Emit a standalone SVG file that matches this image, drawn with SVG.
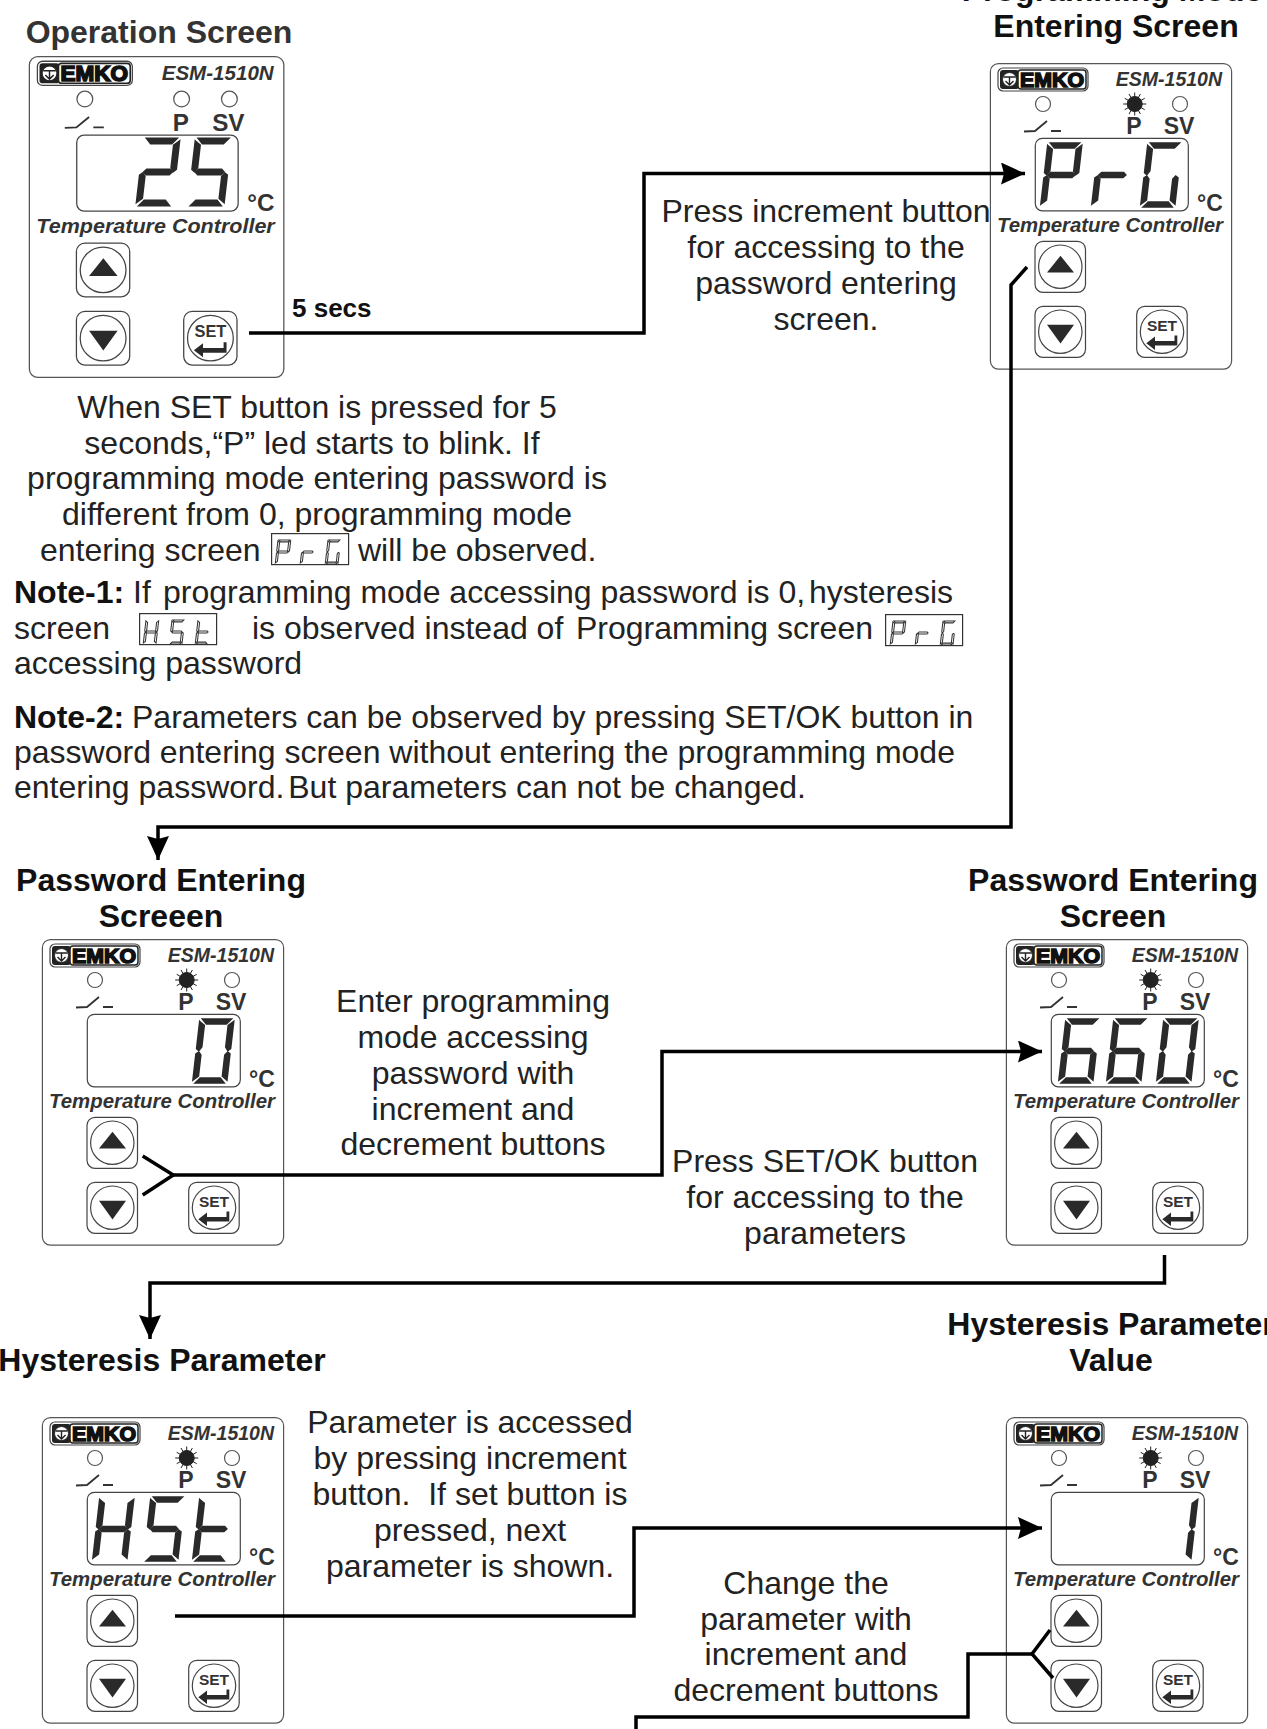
<svg xmlns="http://www.w3.org/2000/svg" width="1267" height="1729" viewBox="0 0 1267 1729">
<style>
text{font-family:"Liberation Sans",Arial,sans-serif;white-space:pre}
.t{font-size:32px;font-weight:700;fill:#111;text-anchor:middle}
.l{font-size:32px;fill:#222}
.m{text-anchor:middle}
.b{font-weight:700;fill:#111}
.esm{font-size:19.500px;font-weight:700;font-style:italic;fill:#333;text-anchor:end}
.tc{font-size:19.500px;font-weight:700;font-style:italic;fill:#333}
.ind{font-size:23px;font-weight:700;fill:#333;text-anchor:middle}
.deg{font-size:23px;font-weight:700;fill:#333}
.set{font-size:15.500px;font-weight:700;fill:#333;text-anchor:middle}
.logo{font-size:21px;font-weight:700;fill:#111;stroke:#111;stroke-width:1.600}
.o{fill:#fff;stroke:#555;stroke-width:1.200}
.o2{fill:#fff;stroke:#444;stroke-width:1.200}
.seg{fill:#2a2a2a;stroke:#2a2a2a;stroke-width:1.600}
.hol{fill:#fff;stroke:#333;stroke-width:2.800}
.c{fill:none;stroke:#000;stroke-width:3.500;stroke-linejoin:miter}
.box{fill:#fff;stroke:#333;stroke-width:1.200}
</style>
<defs>
<polygon id="a" points="2.500,0 31.500,0 27,5 7,5"/>
<polygon id="bb" points="34,2.500 34,29.500 31.500,31.500 29,28 29,6.500"/>
<polygon id="cc" points="31.500,33 34,35 34,61 29,57 29,36"/>
<polygon id="dd" points="7,59 27,59 31.500,64 2.500,64"/>
<polygon id="ee" points="2.500,33 5,36 5,57 0,61 0,35"/>
<polygon id="ff" points="0,2.500 5,6.500 5,28 2.500,31.500 0,29.500"/>
<polygon id="gg" points="3.500,32 6,29.500 28,29.500 30.500,32 28,34.500 6,34.500"/>
<g id="d0"><use href="#a"/><use href="#bb"/><use href="#cc"/><use href="#dd"/><use href="#ee"/><use href="#ff"/></g>
<g id="d1"><use href="#bb"/><use href="#cc"/></g>
<g id="d2"><use href="#a"/><use href="#bb"/><use href="#gg"/><use href="#ee"/><use href="#dd"/></g>
<g id="d5"><use href="#a"/><use href="#ff"/><use href="#gg"/><use href="#cc"/><use href="#dd"/></g>
<g id="d6"><use href="#a"/><use href="#ff"/><use href="#gg"/><use href="#cc"/><use href="#dd"/><use href="#ee"/></g>
<g id="dP"><use href="#a"/><use href="#bb"/><use href="#ff"/><use href="#gg"/><use href="#ee"/></g>
<g id="dr"><use href="#gg"/><use href="#ee"/></g>
<g id="dG"><use href="#a"/><use href="#ff"/><use href="#ee"/><use href="#dd"/><use href="#cc"/></g>
<g id="dH"><use href="#bb"/><use href="#cc"/><use href="#ff"/><use href="#ee"/><use href="#gg"/></g>
<g id="dt"><use href="#ff"/><use href="#ee"/><use href="#gg"/><use href="#dd"/></g>
<g id="led"><circle r="7.500" class="o"/></g>
<g id="burst" stroke="#222" fill="#222"><circle r="7.500"/><path stroke-width="1" d="M-11.500 0H11.500M0-11.500V11.500M-10-5.700L10 5.700M-10 5.700L10-5.700M-5.700-10L5.700 10M-5.700 10L5.700-10"/></g>
<g id="face">
<rect x="-.6" y=".6" width="241.200" height="305.500" rx="8" class="o"/>
<rect x="7" y="5" width="90" height="23" rx="5" class="o2"/>
<rect x="9" y="7" width="19" height="19" rx="3" fill="#222"/>
<rect x="27" y="7" width="68" height="19" rx="3" fill="#fff" stroke="#222" stroke-width="1.500"/>
<circle cx="18.500" cy="16.500" r="7" fill="#fff" stroke="#222"/>
<path d="M12.500 14h12M18.500 14v8M14.500 18l4 4 4-4" fill="none" stroke="#222" stroke-width="1.400"/>
<use href="#led" x="52" y="41"/>
<use href="#led" x="189" y="41"/>
<path d="M33 68.500L44 68 56 58M60 68H70" fill="none" stroke="#333" stroke-width="1.800"/>
<rect x="44.300" y="75.300" width="153" height="72.500" rx="7" class="o2"/>
<rect x="44" y="178.300" width="50.500" height="51" rx="8" class="o2"/>
<circle cx="69.300" cy="203.700" r="21.700" class="o2"/>
<polygon points="56,209.500 83,209.500 69.500,192.700" fill="#2a2a2a"/>
<rect x="44" y="243.300" width="50.500" height="51" rx="8" class="o2"/>
<circle cx="69.300" cy="268.700" r="21.700" class="o2"/>
<polygon points="56,261.700 83,261.700 69.500,280.500" fill="#2a2a2a"/>
<rect x="145.700" y="243.300" width="50.500" height="51" rx="8" class="o2"/>
<circle cx="171" cy="268.700" r="21.700" class="o2"/>
<polygon points="155.300,280.300 164,273.500 164,278 183.500,278 183.500,272.500 186.300,272.500 186.300,282.500 164,282.500 164,287" fill="#2a2a2a"/>
</g>
<marker id="ar" viewBox="0 0 24 22" refX="24" refY="11" markerWidth="24" markerHeight="22" markerUnits="userSpaceOnUse" orient="auto"><polygon points="0,0 24,11 0,22 3,11" fill="#000"/></marker>
</defs>

<text class="t" x="159" y="43" style="fill:#333">Operation Screen</text>
<text class="t" x="1112" y="1">Programming Mode</text>
<text class="t" x="1116" y="37">Entering Screen</text>
<text class="t" x="161" y="891">Password Entering</text>
<text class="t" x="161" y="927">Screeen</text>
<text class="t" x="1113" y="891">Password Entering</text>
<text class="t" x="1113" y="927">Screen</text>
<text class="t" x="162" y="1371">Hysteresis Parameter</text>
<text class="t" x="1111" y="1335">Hysteresis Parameter</text>
<text class="t" x="1111" y="1371">Value</text>

<g id="dev-operation" transform="translate(30 56) scale(1.055 1.05)">
<use href="#face"/>
<text class="logo" x="29" y="24" textLength="64" lengthAdjust="spacingAndGlyphs">EMKO</text>
<text class="esm" x="231" y="23">ESM-1510N</text>
<use href="#led" x="143.700" y="41"/>
<text class="ind" x="143" y="71">P</text><text class="ind" x="188" y="71">SV</text>
<text class="deg" x="206" y="148">°C</text>
<text class="tc" x="6" y="169" textLength="226" lengthAdjust="spacingAndGlyphs">Temperature Controller</text>
<text class="set" x="171" y="268">SET</text>
<g class="seg"><use href="#d2" transform="translate(108 78.500) skewX(-6.600)"/><use href="#d5" transform="translate(157 78.500) skewX(-6.600)"/></g>
</g>

<g id="dev-prg" transform="translate(991 63)">
<use href="#face"/>
<text class="logo" x="29" y="24" textLength="64" lengthAdjust="spacingAndGlyphs">EMKO</text>
<text class="esm" x="231" y="23">ESM-1510N</text>
<use href="#burst" x="143.700" y="41"/>
<text class="ind" x="143" y="71">P</text><text class="ind" x="188" y="71">SV</text>
<text class="deg" x="206" y="148">°C</text>
<text class="tc" x="6" y="169" textLength="226" lengthAdjust="spacingAndGlyphs">Temperature Controller</text>
<text class="set" x="171" y="268">SET</text>
<g class="seg"><use href="#dP" transform="translate(57 80) skewX(-6.600)"/><use href="#dr" transform="translate(108 80) skewX(-6.600)"/><use href="#dG" transform="translate(157 80) skewX(-6.600)"/></g>
</g>

<g id="dev-pass0" transform="translate(43 939)">
<use href="#face"/>
<text class="logo" x="29" y="24" textLength="64" lengthAdjust="spacingAndGlyphs">EMKO</text>
<text class="esm" x="231" y="23">ESM-1510N</text>
<use href="#burst" x="143.700" y="41"/>
<text class="ind" x="143" y="71">P</text><text class="ind" x="188" y="71">SV</text>
<text class="deg" x="206" y="148">°C</text>
<text class="tc" x="6" y="169" textLength="226" lengthAdjust="spacingAndGlyphs">Temperature Controller</text>
<text class="set" x="171" y="268">SET</text>
<g class="seg"><use href="#d0" transform="translate(157 80) skewX(-6.600)"/></g>
</g>

<g id="dev-pass660" transform="translate(1007 939)">
<use href="#face"/>
<text class="logo" x="29" y="24" textLength="64" lengthAdjust="spacingAndGlyphs">EMKO</text>
<text class="esm" x="231" y="23">ESM-1510N</text>
<use href="#burst" x="143.700" y="41"/>
<text class="ind" x="143" y="71">P</text><text class="ind" x="188" y="71">SV</text>
<text class="deg" x="206" y="148">°C</text>
<text class="tc" x="6" y="169" textLength="226" lengthAdjust="spacingAndGlyphs">Temperature Controller</text>
<text class="set" x="171" y="268">SET</text>
<g class="seg"><use href="#d6" transform="translate(59 80) skewX(-6.600)"/><use href="#d6" transform="translate(107 80) skewX(-6.600)"/><use href="#d0" transform="translate(157 80) skewX(-6.600)"/></g>
</g>

<g id="dev-hst" transform="translate(43 1417)">
<use href="#face"/>
<text class="logo" x="29" y="24" textLength="64" lengthAdjust="spacingAndGlyphs">EMKO</text>
<text class="esm" x="231" y="23">ESM-1510N</text>
<use href="#burst" x="143.700" y="41"/>
<text class="ind" x="143" y="71">P</text><text class="ind" x="188" y="71">SV</text>
<text class="deg" x="206" y="148">°C</text>
<text class="tc" x="6" y="169" textLength="226" lengthAdjust="spacingAndGlyphs">Temperature Controller</text>
<text class="set" x="171" y="268">SET</text>
<g class="seg"><use href="#dH" transform="translate(57 80) skewX(-6.600)"/><use href="#d5" transform="translate(108 80) skewX(-6.600)"/><use href="#dt" transform="translate(157 80) skewX(-6.600)"/></g>
</g>

<g id="dev-value" transform="translate(1007 1417)">
<use href="#face"/>
<text class="logo" x="29" y="24" textLength="64" lengthAdjust="spacingAndGlyphs">EMKO</text>
<text class="esm" x="231" y="23">ESM-1510N</text>
<use href="#burst" x="143.700" y="41"/>
<text class="ind" x="143" y="71">P</text><text class="ind" x="188" y="71">SV</text>
<text class="deg" x="206" y="148">°C</text>
<text class="tc" x="6" y="169" textLength="226" lengthAdjust="spacingAndGlyphs">Temperature Controller</text>
<text class="set" x="171" y="268">SET</text>
<g class="seg"><use href="#d1" transform="translate(157 80) skewX(-6.600)"/></g>
</g>

<g id="connectors">
<path class="c" marker-end="url(#ar)" d="M249 333H644V173.500H1025"/>
<path class="c" marker-end="url(#ar)" d="M1027 267L1011 285V827H158V860"/>
<path class="c" d="M142.700 1156L173.300 1175 142.700 1195"/>
<path class="c" marker-end="url(#ar)" d="M173 1175H662V1051.500H1042"/>
<path class="c" marker-end="url(#ar)" d="M1164.500 1255V1283H150V1339"/>
<path class="c" marker-end="url(#ar)" d="M175 1616H634V1528H1042"/>
<path class="c" d="M1050 1630L1032 1654 1053 1678"/>
<path class="c" d="M1032 1654H968V1717H636V1729"/>
</g>

<text class="b" x="292" y="317" style="font-size:26px">5 secs</text>

<g id="inline-displays">
<rect x="271.600" y="533.600" width="77" height="31" class="box"/>
<g class="hol"><use href="#dP" transform="translate(278 540) scale(.375) skewX(-6.600)"/><use href="#dr" transform="translate(303 540) scale(.375) skewX(-6.600)"/><use href="#dG" transform="translate(328 540) scale(.375) skewX(-6.600)"/></g>
<rect x="139.600" y="613.600" width="77" height="31" class="box"/>
<g class="hol"><use href="#dH" transform="translate(146 620) scale(.375) skewX(-6.600)"/><use href="#d5" transform="translate(172 620) scale(.375) skewX(-6.600)"/><use href="#dt" transform="translate(198 620) scale(.375) skewX(-6.600)"/></g>
<rect x="885.600" y="614.600" width="77" height="31" class="box"/>
<g class="hol"><use href="#dP" transform="translate(893 621) scale(.375) skewX(-6.600)"/><use href="#dr" transform="translate(918 621) scale(.375) skewX(-6.600)"/><use href="#dG" transform="translate(943 621) scale(.375) skewX(-6.600)"/></g>
</g>

<g id="texts">
<text class="l m" x="317" y="418">When SET button is pressed for 5</text>
<text class="l m" x="312" y="454">seconds,“P” led starts to blink. If</text>
<text class="l m" x="317" y="489">programming mode entering password is</text>
<text class="l m" x="317" y="525">different from 0, programming mode</text>
<text class="l" x="40" y="561">entering screen</text>
<text class="l" x="358" y="561">will be observed.</text>
<text class="l b" x="14" y="603">Note-1:</text>
<text class="l" x="133" y="603">If</text>
<text class="l" x="163" y="603">programming mode accessing password is 0,<tspan dx="-5"> hysteresis</tspan></text>
<text class="l" x="14" y="639">screen</text>
<text class="l" x="252" y="639">is observed instead of</text>
<text class="l" x="576" y="639">Programming screen</text>
<text class="l" x="14" y="674">accessing password</text>
<text class="l b" x="14" y="728">Note-2:</text>
<text class="l" x="132" y="728">Parameters can be observed by pressing SET/OK button in</text>
<text class="l" x="14" y="763">password entering screen without entering the programming mode</text>
<text class="l" x="14" y="798">entering password.<tspan dx="-5"> But parameters can not be changed.</tspan></text>

<text class="l m" x="826" y="222">Press increment button</text>
<text class="l m" x="826" y="258">for accessing to the</text>
<text class="l m" x="826" y="294">password entering</text>
<text class="l m" x="826" y="330">screen.</text>

<text class="l m" x="473" y="1012">Enter programming</text>
<text class="l m" x="473" y="1048">mode accessing</text>
<text class="l m" x="473" y="1084">password with</text>
<text class="l m" x="473" y="1120">increment and</text>
<text class="l m" x="473" y="1155">decrement buttons</text>

<text class="l m" x="825" y="1172">Press SET/OK button</text>
<text class="l m" x="825" y="1208">for accessing to the</text>
<text class="l m" x="825" y="1244">parameters</text>

<text class="l m" x="470" y="1433">Parameter is accessed</text>
<text class="l m" x="470" y="1469">by pressing increment</text>
<text class="l m" x="470" y="1505">button.  If set button is</text>
<text class="l m" x="470" y="1541">pressed, next</text>
<text class="l m" x="470" y="1577">parameter is shown.</text>

<text class="l m" x="806" y="1594">Change the</text>
<text class="l m" x="806" y="1630">parameter with</text>
<text class="l m" x="806" y="1665">increment and</text>
<text class="l m" x="806" y="1701">decrement buttons</text>
</g>
</svg>
